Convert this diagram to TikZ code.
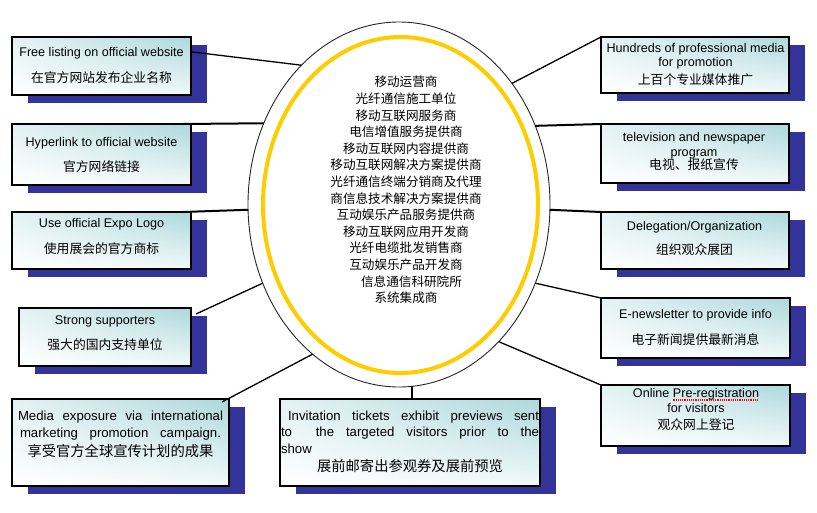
\documentclass[tikz,border=0pt]{standalone}
\usepackage{fontspec}
\setmainfont{Liberation Sans}
\newfontfamily\cjkfont{Noto Sans CJK SC}
\usetikzlibrary{shapes.geometric,shadows,shadings}
\definecolor{shadowblue}{RGB}{51,51,153}
\definecolor{ringgold}{RGB}{255,204,0}
\definecolor{boxteal}{RGB}{172,216,220}
\definecolor{boxpale}{RGB}{228,242,243}
\newcommand{\zh}[1]{{\cjkfont\fontsize{12.8pt}{15pt}\selectfont #1}}
\newcommand{\zhbig}[1]{{\cjkfont\fontsize{14.3pt}{15pt}\selectfont #1}}
\newsavebox{\spellbox}
\newcommand{\spellmark}[1]{\sbox{\spellbox}{#1}\rlap{\textcolor{red}{\raisebox{-3pt}{\leaders\hbox to 2.2pt{\hss\rule{1.1pt}{1.1pt}\hss}\hskip\wd\spellbox}}}\usebox{\spellbox}}

\begin{document}
\begin{tikzpicture}[x=1pt, y=-1pt,
  box/.style={draw, line width=1.2pt, inner sep=0pt, outer sep=0pt, anchor=north west,
    upper right=boxteal, upper left=boxpale, lower right=boxpale!50!white, lower left=white,
    drop shadow={shadow xshift=16pt, shadow yshift=-8pt, fill=shadowblue, opacity=1}},
  boxtext/.style={align=center, inner sep=0pt, font=\fontsize{12.6pt}{15pt}\selectfont},
  widetext/.style={boxtext, font=\fontsize{13.2pt}{15pt}\selectfont},
  wire/.style={line width=1.3pt},
  bar/.style={line width=2pt}]
\useasboundingbox (0,0) rectangle (817,512);

\node[draw=black!85, line width=0.9pt, fill=white, ellipse, inner sep=0pt, outer sep=0pt,
  minimum width=302pt, minimum height=365pt] (core) at (399,204.5) {};
\node[draw=ringgold, line width=4pt, ellipse, inner sep=0pt, outer sep=0pt,
  minimum width=275pt, minimum height=336pt] (ring) at (400.5,205) {};
\node[align=center, inner sep=0pt, font=\cjkfont\fontsize{12.6pt}{16.6pt}\selectfont] (list) at (406,190)
  {移动运营商\\光纤通信施工单位\\移动互联网服务商\\电信增值服务提供商\\移动互联网内容提供商\\
   移动互联网解决方案提供商\\光纤通信终端分销商及代理\\商信息技术解决方案提供商\\互动娱乐产品服务提供商\\
   移动互联网应用开发商\\光纤电缆批发销售商\\互动娱乐产品开发商\\\hspace*{11pt}信息通信科研院所\\系统集成商};

\node[box, minimum width=179pt, minimum height=58pt] (free) at (12,37) {};
\node[boxtext] (freetxt) at (101.5,65.5) {Free listing on official website\\[11pt]\zh{在官方网站发布企业名称}};
\node[box, minimum width=179pt, minimum height=61pt] (link) at (12,124) {};
\node[boxtext] (linktxt) at (101.5,155) {Hyperlink to official website\\[10pt]\zh{官方网络链接}};
\node[box, minimum width=179pt, minimum height=57pt] (logo) at (12,212) {};
\node[boxtext] (logotxt) at (101.5,236) {Use official Expo Logo\\[11pt]\zh{使用展会的官方商标}};
\node[box, minimum width=172pt, minimum height=58pt] (support) at (19,308) {};
\node[boxtext] (supporttxt) at (105,333) {Strong supporters\\[10pt]\zh{强大的国内支持单位}};
\node[box, minimum width=217pt, minimum height=87pt] (media) at (12,399) {};
\node[widetext] (mediatxt) at (120.5,434.5) {\makebox[205pt][s]{Media exposure via international}\\[2pt]
  \makebox[201pt][s]{marketing promotion campaign.}\\[4pt]\zhbig{享受官方全球宣传计划的成果}};
\node[box, minimum width=260pt, minimum height=87pt] (ticket) at (280,399) {};
\node[widetext] (tickettxt) at (410,442) {\makebox[258pt][s]{\hspace{7pt}Invitation tickets exhibit previews sent}\\[1pt]
  \makebox[258pt][s]{to\ \ the targeted visitors prior to the}\\[2pt]\makebox[258pt][l]{show}\\[3pt]
  \zhbig{展前邮寄出参观券及展前预览}};

\node[box, minimum width=188pt, minimum height=56pt] (hundred) at (601,37) {};
\node[boxtext] (hundredtxt) at (695.5,64.5) {Hundreds of professional media\\[-0.5pt]for promotion\\[3pt]\zh{上百个专业媒体推广}};
\node[box, minimum width=188pt, minimum height=59pt] (tv) at (601,124) {};
\node[boxtext] (tvtxt) at (694,151.5) {television and newspaper\\[-0.5pt]program\\[-1.5pt]\zh{电视、报纸宣传}};
\node[box, minimum width=188pt, minimum height=57pt] (deleg) at (601,212) {};
\node[boxtext] (delegtxt) at (694.5,238.5) {Delegation/Organization\\[9.5pt]\zh{组织观众展团}};
\node[box, minimum width=189pt, minimum height=60pt] (enews) at (601,298) {};
\node[boxtext] (enewstxt) at (695.5,327.5) {E-newsletter to provide info\\[11pt]\zh{电子新闻提供最新消息}};
\node[box, minimum width=189pt, minimum height=61pt] (online) at (601,385) {};
\node[boxtext] (onlinetxt) at (696,409.5) {Online \spellmark{Pre-registration}\\[0pt]for visitors\\[2pt]\zh{观众网上登记}};

\draw[wire] (free.9.5) -- (core.125.5);
\draw[bar] ([xshift=-8pt]link.north east) -- (core.149.3);
\draw[bar] ([xshift=-8pt]logo.north east) -- (core.182.8);
\draw[wire] ([xshift=5pt,yshift=-6pt]support.north east) -- (core.210.4);
\draw[wire] ([xshift=-7pt,yshift=-3pt]media.north east) -- (core.240.7);
\draw[bar] (core.-86.9) -- (core.-86.9 |- ticket.north);
\draw[wire] (core.47.8) -- (hundred.north west);
\draw[bar] (core.30.7) -- (tv.north west);
\draw[bar] (core.-2.8) -- (deleg.north west);
\draw[wire] (core.-30.1) -- (enews.north west);
\draw[wire] (core.-54.4) -- (online.north west);
\end{tikzpicture}
\end{document}
